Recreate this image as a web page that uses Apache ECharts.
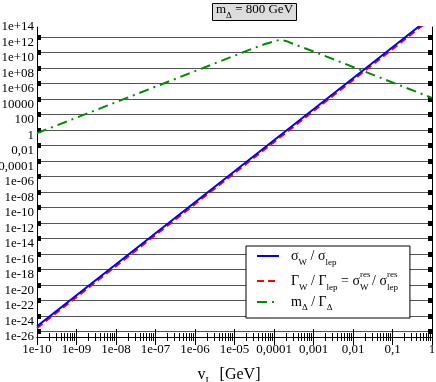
<!DOCTYPE html>
<html><head><meta charset="utf-8">
<script src="https://cdn.jsdelivr.net/npm/echarts@6/dist/echarts.min.js"></script>
<style>html,body{margin:0;padding:0;background:#fff}#c{width:436px;height:382px}</style>
</head><body><div id="c"></div><script>
// x positions (v_L in GeV)
const vL = [1e-10, 1e-9, 1e-8, 1e-7, 1e-6, 1e-5, 1e-4, 1e-3, 1e-2, 1e-1, 1];
// sigma_W / sigma_lep
const sigmaRatio = [2.5e-25, 2.5e-21, 2.5e-17, 2.5e-13, 2.5e-9, 2.5e-5, 0.25, 2.5e3, 2.5e7, 2.5e11, 2.5e15];
// Gamma_W / Gamma_lep = sigma_W^res / sigma_lep^res
const gammaRatio = [1.4e-25, 1.4e-21, 1.4e-17, 1.4e-13, 1.4e-9, 1.4e-5, 0.14, 1.4e3, 1.4e7, 1.4e11, 1.4e15];
// m_Delta / Gamma_Delta
const massX = [1e-10, 1e-9, 1e-8, 1e-7, 1e-6, 1e-5, 3e-5, 6e-5, 1e-4, 1.4e-4, 2e-4, 3e-4, 1e-3, 1e-2, 1e-1, 1];
const massRatio = [2, 200, 2e4, 2e6, 2e8, 2e10, 1.8e11, 6.3e11, 1.4e12, 2.2e12, 1.6e12, 7e11, 7e10, 7e8, 7e6, 7e4];

const xTickLabels = ['1e-10','1e-09','1e-08','1e-07','1e-06','1e-05','0,0001','0,001','0,01','0,1','1'];
const yTickLabels = ['1e-26','1e-24','1e-22','1e-20','1e-18','1e-16','1e-14','1e-12','1e-10','1e-08','1e-06','0,0001','0,01','1','100','10000','1e+06','1e+08','1e+10','1e+12','1e+14'];

const FONT = 'Liberation Serif';
const yLabelValues = yTickLabels.map((_, i) => Math.pow(10, -26 + 2 * i));
const yTickMarks = [];
for (let e = -26; e <= 12; e += 2) yTickMarks.push(5 * Math.pow(10, e));

function zip(xs, ys) { return xs.map((x, i) => [x, ys[i]]); }

const rich = {
  n: {fontFamily: FONT, fontSize: 14, lineHeight: 22, color: '#000'},
  n2: {fontFamily: FONT, fontSize: 14, lineHeight: 28, color: '#000'},
  sb: {fontFamily: FONT, fontSize: 9, lineHeight: 9, verticalAlign: 'bottom', color: '#000'},
  sb2: {fontFamily: FONT, fontSize: 9, lineHeight: 9, verticalAlign: 'bottom', padding: [0, 0, 4, 0], color: '#000'},
  sp: {fontFamily: FONT, fontSize: 9, lineHeight: 9, verticalAlign: 'top', color: '#000', width: 0},
  gap: {width: 7}
};
const legendText = {
  sigma: '{gap|}{n|σ}{sb|W}{n| / σ}{sb|lep}',
  gamma: '{gap|}{n|Γ}{sb|W}{n| / Γ}{sb|lep}{n| = σ}{sp|res}{sb|W}{n| / σ}{sp|res}{sb|lep}',
  mass: '{gap|}{n2|m}{sb2|Δ}{n2| / Γ}{sb2|Δ}'
};

const chart = echarts.init(document.getElementById('c'));
const baseX = {
  type: 'log', logBase: 10, min: 1e-10, max: 1, interval: 1,
  axisLine: {show: true, lineStyle: {color: '#000', width: 1}},
  axisTick: {show: true, inside: true, length: 8, lineStyle: {color: '#000'}},
  minorTick: {show: true, splitNumber: 9, length: 4, lineStyle: {color: '#000'}},
  splitLine: {show: false}, minorSplitLine: {show: false}
};
const baseY = {
  type: 'log', logBase: 10, min: 1e-26, max: 1e14, interval: 2,
  axisLine: {show: true, lineStyle: {color: '#000', width: 1}},
  axisTick: {show: true, inside: true, length: 4, customValues: yTickMarks, lineStyle: {color: '#000', width: 5}}
};
chart.setOption({
  animation: false,
  backgroundColor: '#fff',
  title: {
    text: '{n|m}{sb|Δ}{n| = 800 GeV}',
    left: 212, top: 0,
    backgroundColor: '#dcdcdc', borderColor: '#000', borderWidth: 1,
    padding: [0, 4, 1, 4],
    textStyle: {fontWeight: 'normal', rich: {
      n: {fontFamily: FONT, fontSize: 13, fontWeight: 'normal', lineHeight: 20, color: '#000'},
      sb: {fontFamily: FONT, fontSize: 9, fontWeight: 'normal', lineHeight: 9, verticalAlign: 'bottom', color: '#000'}
    }}
  },
  grid: {left: 37, right: 4, top: 27, bottom: 45, outerBoundsMode: 'none'},
  xAxis: [
    Object.assign({}, baseX, {
      position: 'bottom',
      axisLabel: {show: true, margin: 6, fontFamily: FONT, fontSize: 13, color: '#000',
        formatter: v => xTickLabels[Math.round(Math.log10(v)) + 10]},
      name: '{n|v}{sb|L}{n|  [GeV]}', nameLocation: 'middle', nameGap: 27,
      nameTextStyle: {padding: [0, 11, 0, 0], rich: {
        n: {fontFamily: FONT, fontSize: 16, lineHeight: 22, color: '#000'},
        sb: {fontFamily: FONT, fontSize: 10, lineHeight: 10, verticalAlign: 'bottom', color: '#000'}
      }}
    }),
    Object.assign({}, baseX, {position: 'top', axisLabel: {show: false}})
  ],
  yAxis: [
    Object.assign({}, baseY, {
      position: 'left',
      axisLabel: {show: true, margin: 3, fontFamily: FONT, fontSize: 13, color: '#000',
        customValues: yLabelValues,
        formatter: v => {
          if (!(v > 0)) return '';
          const i = (Math.round(Math.log10(v)) + 26) / 2;
          return yTickLabels[i] || '';
        }},
      splitLine: {show: true, lineStyle: {color: '#555', width: 1}}
    }),
    Object.assign({}, baseY, {position: 'right', axisLabel: {show: false}, splitLine: {show: false}})
  ],
  legend: {
    orient: 'vertical', left: 246, top: 246,
    itemWidth: 22, itemHeight: 10, itemGap: 3,
    padding: [3, 12, 2, 10],
    backgroundColor: '#fff', borderColor: '#000', borderWidth: 1,
    itemStyle: {opacity: 0},
    data: ['sigma', 'gamma', 'mass'],
    formatter: name => legendText[name],
    textStyle: {fontFamily: FONT, fontSize: 14, color: '#000', rich: rich}
  },
  series: [
    {name: 'sigma', type: 'line', data: zip(vL, sigmaRatio), showSymbol: false, symbol: 'none',
     lineStyle: {color: '#0000ff', width: 2}, itemStyle: {color: '#0000ff'}, z: 3},
    {name: 'gamma', type: 'line', data: zip(vL, gammaRatio), showSymbol: false, symbol: 'none',
     lineStyle: {color: '#ff0000', width: 2, type: [7, 4]}, itemStyle: {color: '#ff0000'}, z: 2},
    {name: 'mass', type: 'line', data: zip(massX, massRatio), showSymbol: false, symbol: 'none',
     lineStyle: {color: '#008c00', width: 2, type: [10, 5, 2, 5]}, itemStyle: {color: '#008c00'}, z: 2}
  ]
});
</script></body></html>
